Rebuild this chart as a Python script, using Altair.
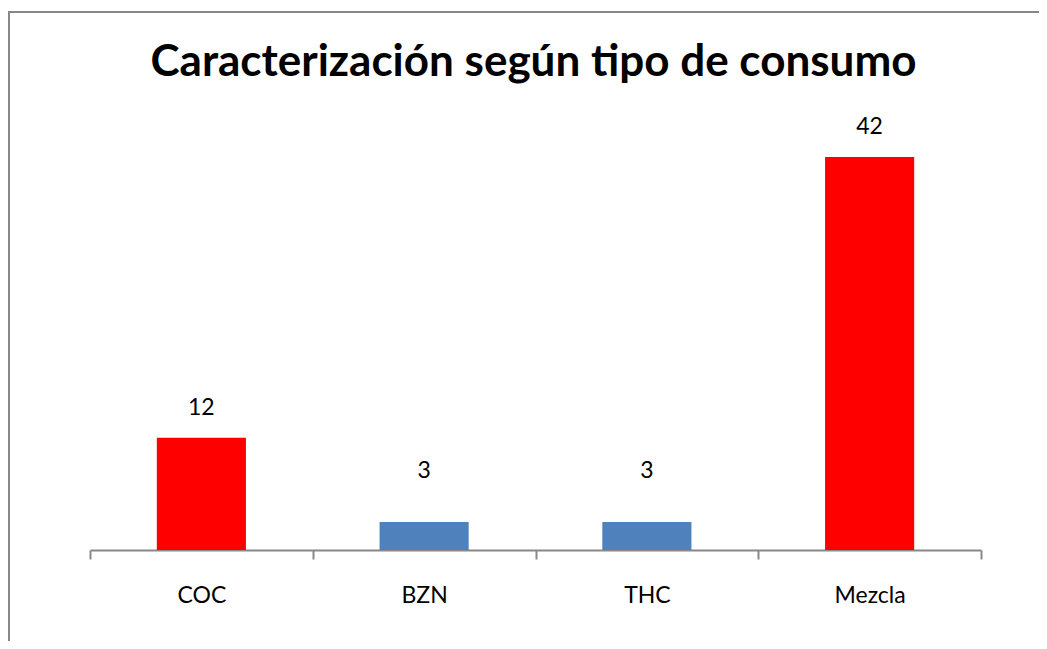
import json
import altair as alt
import pandas as pd

categories = ["COC", "BZN", "THC", "Mezcla"]
values = [12, 3, 3, 42]
colors = ["#FF0000", "#4F81BD", "#4F81BD", "#FF0000"]
title_text = "Caracterización según tipo de consumo"

df = pd.DataFrame({
    "cat": categories,
    "value": values,
    "color": colors,
    "idx": list(range(len(categories))),
})

n = len(categories)
tick_vals = [i / 2 for i in range(2 * n + 1)]
label_expr = (
    "datum.value % 1 == 0.5 ? " + json.dumps(categories) + "[floor(datum.value)] : ''"
)

W, H = 891, 421
PL, PT, PR, PB = 82, 121, 58, 91
GRAY = "#888888"
FONT = "Lato"

xscale = alt.Scale(domain=[0, n], nice=False, zero=False)
yscale = alt.Scale(domain=[0, 45], nice=False)

base = alt.Chart(df).transform_calculate(
    x0="datum.idx + 0.3", x1="datum.idx + 0.7", xc="datum.idx + 0.5"
)

bars = base.mark_bar().encode(
    x=alt.X(
        "x0:Q",
        scale=xscale,
        title=None,
        axis=alt.Axis(
            values=tick_vals,
            labelExpr=label_expr,
            tickOpacity={"condition": {"test": "datum.value % 1 != 0", "value": 0}, "value": 1},
            grid=False,
            domainColor=GRAY,
            domainWidth=2,
            tickColor=GRAY,
            tickWidth=2,
            tickSize=9,
            labelFont=FONT,
            labelFontSize=23,
            labelColor="black",
            labelBaseline="alphabetic",
            labelPadding=43,
            labelFlush=False,
            labelOverlap=False,
        ),
    ),
    x2="x1:Q",
    y=alt.Y("value:Q", scale=yscale, axis=None),
    y2=alt.datum(0),
    color=alt.Color("color:N", scale=None),
)

labels_big = base.transform_filter("datum.value >= 5").mark_text(
    font=FONT, fontSize=23, baseline="middle", color="black", dy=-30
).encode(x="xc:Q", y="value:Q", text="value:Q")

labels_small = base.transform_filter("datum.value < 5").mark_text(
    font=FONT, fontSize=23, baseline="middle", color="black", dy=-51
).encode(x="xc:Q", y="value:Q", text="value:Q")

frame = alt.Data(values=[{}])
left_border = alt.Chart(frame).mark_rule(color=GRAY, strokeWidth=2).encode(
    x=alt.value(-PL + 1), y=alt.value(-PT + 4), y2=alt.value(H + PB)
)
top_border = alt.Chart(frame).mark_rule(color=GRAY, strokeWidth=2).encode(
    x=alt.value(-PL), x2=alt.value(W + PR), y=alt.value(-PT + 4)
)

title = alt.Chart(alt.Data(values=[{"t": title_text}])).mark_text(
    font=FONT, fontSize=44, fontWeight="bold", color="black",
    align="center", baseline="alphabetic",
).encode(text="t:N", x=alt.value(W / 2 - 2), y=alt.value(-53))

chart = alt.layer(left_border, top_border, title, bars, labels_big, labels_small).properties(
    width=W,
    height=H,
    autosize=alt.AutoSizeParams(type="none"),
    padding={"left": PL, "top": PT, "right": PR, "bottom": PB},
).configure_view(stroke=None)

chart.save("out.html", embed_options={"renderer": "svg", "actions": False})
